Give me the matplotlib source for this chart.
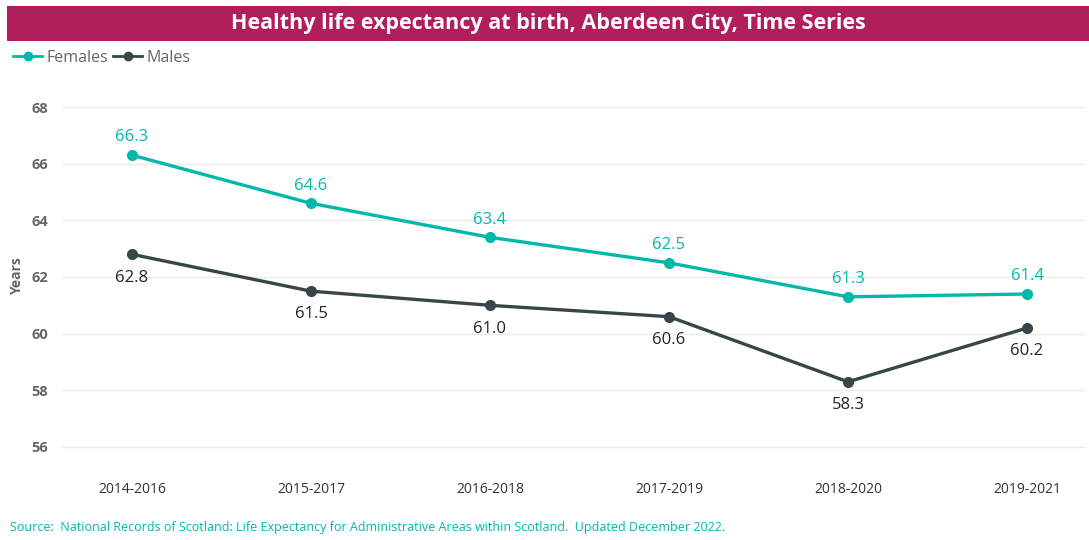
import matplotlib.pyplot as plt
from matplotlib.lines import Line2D

periods = ['2014-2016', '2015-2017', '2016-2018', '2017-2019', '2018-2020', '2019-2021']
females = [66.3, 64.6, 63.4, 62.5, 61.3, 61.4]
males = [62.8, 61.5, 61.0, 60.6, 58.3, 60.2]
yticks = [56, 58, 60, 62, 64, 66, 68]

teal = '#01B8AA'
dark = '#374649'
W, H = 1089, 540

plt.rcParams['font.family'] = ['Open Sans', 'DejaVu Sans']
fig = plt.figure(figsize=(W / 100, H / 100), dpi=100)

# title bar
bar = fig.add_axes([7 / W, 1 - 41 / H, 1 - 7 / W, 35 / H])
bar.set_facecolor('#B01F5B')
bar.set_xticks([]), bar.set_yticks([])
for s in bar.spines.values():
    s.set_visible(False)
bar.text(0.5, 0.5, 'Healthy life expectancy at birth, Aberdeen City, Time Series',
         ha='center', va='center', color='white', fontsize=15.5, fontweight='bold')

# main axes
left, right, top, bottom = 62, 1085, 95, 460
x0, step = 132, 179
ax = fig.add_axes([left / W, 1 - bottom / H, (right - left) / W, (bottom - top) / H])
x = list(range(len(periods)))
ax.plot(x, females, color=teal, lw=2.4, marker='o', ms=7)
ax.plot(x, males, color=dark, lw=2.4, marker='o', ms=7)
for i in x:
    ax.annotate(f'{females[i]:.1f}', (i, females[i]), xytext=(0, 7), textcoords='offset points',
                ha='center', va='bottom', color=teal, fontsize=12)
    ax.annotate(f'{males[i]:.1f}', (i, males[i]), xytext=(0, -11), textcoords='offset points',
                ha='center', va='top', color='#222222', fontsize=12)

ax.set_xlim((left - x0) / step, (right - x0) / step)
ax.set_ylim(56 - 13 / 28.33, 68 + 12 / 28.33)
ax.set_yticks(yticks)
ax.set_yticklabels([str(v) for v in yticks], color='#666666', fontweight='bold', fontsize=10.5)
ax.set_xticks(x)
ax.set_xticklabels(periods, color='#333333', fontsize=10)
ax.tick_params(length=0)
ax.tick_params(axis='x', pad=16)
ax.tick_params(axis='y', pad=10)
ax.grid(axis='y', color='#EBEBEB', lw=1)
ax.set_axisbelow(True)
for s in ax.spines.values():
    s.set_visible(False)
fig.text(17 / W, 1 - 276 / H, 'Years', rotation=90, ha='center', va='center',
         color='#666666', fontweight='bold', fontsize=10)

handles = [Line2D([], [], color=teal, lw=2, marker='o', ms=6),
           Line2D([], [], color=dark, lw=2, marker='o', ms=6)]
fig.legend(handles, ['Females', 'Males'], loc='center left', bbox_to_anchor=(-1 / W, 1 - 58 / H),
           frameon=False, ncol=2, handlelength=1.8, handletextpad=0.3, columnspacing=0.3,
           fontsize=11.5, labelcolor='#666666')

fig.text(10 / W, 1 - 528 / H,
         'Source:  National Records of Scotland: Life Expectancy for Administrative Areas within Scotland.  Updated December 2022.',
         color=teal, fontsize=9, ha='left', va='center')

fig.savefig('out.png', dpi=100)
